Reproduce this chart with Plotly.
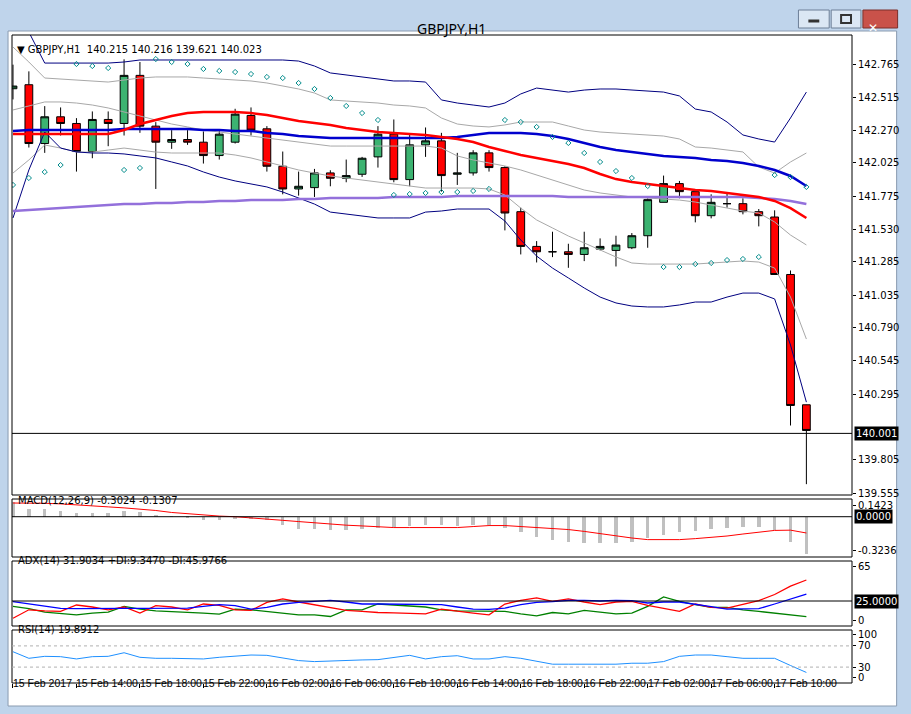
import plotly.graph_objects as go

# GBPJPY H1 bars, 15 Feb 2017 10:00 .. 17 Feb 2017 12:00
opens = [142.58, 142.61, 142.17, 142.37, 142.32, 142.11, 142.35, 142.32, 142.68, 142.30,
         142.18, 142.20, 142.18, 142.08, 142.18, 142.38, 142.28, 142.00, 141.83, 141.84,
         141.95, 141.91, 141.94, 142.07, 142.24, 141.90, 142.16, 142.19, 141.94, 141.95,
         142.10, 141.99, 141.66, 141.40, 141.36, 141.36, 141.34, 141.38, 141.37, 141.39,
         141.48, 141.73, 141.87, 141.81, 141.63, 141.72, 141.72, 141.66, 141.62, 141.19, 140.215]
highs = [142.76, 142.71, 142.45, 142.44, 142.36, 142.41, 142.41, 142.80, 142.78, 142.33,
         142.27, 142.27, 142.26, 142.27, 142.43, 142.44, 142.30, 142.11, 141.96, 141.98,
         141.97, 142.05, 142.07, 142.30, 142.35, 142.24, 142.29, 142.25, 142.10, 142.12,
         142.12, 142.00, 141.69, 141.44, 141.51, 141.42, 141.51, 141.46, 141.48, 141.50,
         141.76, 141.93, 141.89, 141.81, 141.79, 141.80, 141.76, 141.68, 141.67, 141.22, 140.216]
lows = [142.50, 142.14, 142.10, 142.23, 141.96, 142.06, 142.15, 142.23, 142.25, 141.83,
        142.13, 142.16, 142.02, 142.05, 142.17, 142.23, 141.96, 141.79, 141.78, 141.77,
        141.85, 141.88, 141.92, 141.99, 141.88, 141.85, 142.07, 141.81, 141.86, 141.93,
        141.96, 141.52, 141.34, 141.28, 141.32, 141.24, 141.29, 141.37, 141.25, 141.38,
        141.39, 141.73, 141.76, 141.58, 141.61, 141.69, 141.64, 141.55, 141.19, 140.06, 139.621]
closes = [142.60, 142.17, 142.37, 142.32, 142.11, 142.35, 142.32, 142.68, 142.30, 142.18,
          142.20, 142.18, 142.08, 142.24, 142.39, 142.27, 142.00, 141.83, 141.85, 141.95,
          141.91, 141.93, 142.06, 142.24, 141.90, 142.16, 142.19, 141.93, 141.95, 142.10,
          141.99, 141.65, 141.40, 141.36, 141.36, 141.34, 141.39, 141.40, 141.41, 141.48,
          141.75, 141.87, 141.81, 141.63, 141.73, 141.72, 141.66, 141.63, 141.19, 140.21, 140.023]

ma_blue = [142.264, 142.271, 142.271, 142.271, 142.271, 142.271, 142.271, 142.279, 142.279, 142.279,
           142.279, 142.279, 142.271, 142.271, 142.264, 142.264, 142.249, 142.241, 142.226, 142.219,
           142.211, 142.211, 142.211, 142.211, 142.211, 142.211, 142.211, 142.211, 142.219, 142.234,
           142.249, 142.249, 142.249, 142.241, 142.226, 142.204, 142.174, 142.144, 142.121, 142.106,
           142.092, 142.077, 142.069, 142.062, 142.047, 142.039, 142.024, 142.002, 141.972, 141.927, 141.852]
ma_red = [142.241, 142.241, 142.241, 142.241, 142.241, 142.241, 142.241, 142.271, 142.316, 142.346,
          142.376, 142.398, 142.406, 142.406, 142.406, 142.398, 142.383, 142.361, 142.338, 142.324,
          142.309, 142.286, 142.271, 142.256, 142.249, 142.241, 142.234, 142.219, 142.204, 142.181,
          142.144, 142.114, 142.084, 142.062, 142.039, 142.017, 141.987, 141.942, 141.904, 141.882,
          141.867, 141.852, 141.837, 141.822, 141.815, 141.800, 141.785, 141.770, 141.740, 141.687, 141.613]
ma_purple = [141.665, 141.672, 141.680, 141.687, 141.695, 141.702, 141.710, 141.717, 141.717, 141.725,
             141.725, 141.732, 141.732, 141.740, 141.740, 141.747, 141.747, 141.747, 141.755, 141.755,
             141.762, 141.762, 141.762, 141.762, 141.770, 141.770, 141.770, 141.770, 141.777, 141.777,
             141.777, 141.777, 141.777, 141.777, 141.777, 141.770, 141.770, 141.770, 141.770, 141.770,
             141.770, 141.770, 141.770, 141.770, 141.770, 141.770, 141.770, 141.762, 141.755, 141.740, 141.717]
band_up = [143.206, 143.004, 142.772, 142.772, 142.772, 142.772, 142.772, 142.780, 142.795, 142.795,
           142.795, 142.795, 142.795, 142.795, 142.795, 142.795, 142.795, 142.795, 142.787, 142.750,
           142.698, 142.683, 142.668, 142.653, 142.638, 142.638, 142.630, 142.496, 142.473, 142.458,
           142.443, 142.473, 142.541, 142.585, 142.570, 142.555, 142.570, 142.578, 142.578, 142.570,
           142.563, 142.555, 142.526, 142.428, 142.406, 142.331, 142.234, 142.204, 142.181, 142.361, 142.555]
band_lo = [141.613, 141.972, 142.256, 142.136, 142.107, 142.099, 142.099, 142.092, 142.077, 142.062,
           142.032, 142.002, 141.957, 141.919, 141.890, 141.867, 141.845, 141.807, 141.762, 141.717,
           141.657, 141.643, 141.628, 141.613, 141.613, 141.613, 141.657, 141.665, 141.680, 141.680,
           141.680, 141.590, 141.448, 141.328, 141.238, 141.164, 141.089, 141.021, 140.977, 140.954,
           140.947, 140.947, 140.962, 140.984, 140.984, 141.021, 141.051, 141.051, 141.007, 140.662, 140.235]
grey_up = [142.892, 142.780, 142.660, 142.653, 142.645, 142.638, 142.630, 142.645, 142.660, 142.668,
           142.668, 142.668, 142.660, 142.653, 142.645, 142.638, 142.623, 142.600, 142.578, 142.548,
           142.496, 142.488, 142.481, 142.473, 142.458, 142.451, 142.436, 142.361, 142.316, 142.301,
           142.294, 142.309, 142.331, 142.331, 142.331, 142.301, 142.271, 142.256, 142.249, 142.241,
           142.234, 142.226, 142.204, 142.144, 142.136, 142.122, 142.107, 141.994, 141.949, 142.032, 142.099]
grey_mid = [142.421, 142.451, 142.481, 142.481, 142.473, 142.458, 142.436, 142.406, 142.376, 142.346,
            142.316, 142.294, 142.271, 142.256, 142.241, 142.226, 142.211, 142.196, 142.181, 142.166,
            142.151, 142.151, 142.151, 142.151, 142.151, 142.151, 142.151, 142.136, 142.077, 142.047,
            142.024, 142.002, 141.972, 141.934, 141.897, 141.860, 141.822, 141.800, 141.785, 141.770,
            141.762, 141.755, 141.747, 141.732, 141.710, 141.687, 141.665, 141.650, 141.583, 141.485, 141.411]
grey_lo = [141.949, 142.047, 142.159, 142.136, 142.106, 142.106, 142.121, 142.136, 142.121, 142.106,
           142.099, 142.099, 142.099, 142.099, 142.084, 142.062, 142.032, 142.002, 141.972, 141.949,
           141.927, 141.912, 141.897, 141.882, 141.867, 141.852, 141.837, 141.837, 141.837, 141.837,
           141.830, 141.785, 141.687, 141.598, 141.538, 141.478, 141.426, 141.373, 141.321, 141.276,
           141.268, 141.268, 141.268, 141.268, 141.276, 141.283, 141.291, 141.283, 141.238, 141.021, 140.707]
sar = [141.860, 141.912, 141.957, 142.009, 142.765, 142.750, 142.735, 141.972, 141.987, 142.802,
       142.780, 142.765, 142.728, 142.713, 142.705, 142.690, 142.668, 142.660, 142.623, 142.578,
       142.511, 142.451, 142.398, 142.346, 141.785, 141.792, 141.800, 141.807, 141.807, 141.815,
       141.830, 142.346, 142.331, 142.294, 142.219, 142.174, 142.099, 142.032, 141.964, 141.912,
       141.852, 141.246, 141.246, 141.268, 141.276, 141.298, 141.306, 141.321, 141.934, 141.919, 141.845]

macd_hist = [0.12, 0.058, 0.058, 0.045, 0.032, 0.026, 0.026, 0.045, 0.039, 0.013,
             -0.002, -0.013, -0.026, -0.026, -0.021, -0.021, -0.029, -0.068, -0.095, -0.100,
             -0.108, -0.108, -0.100, -0.087, -0.082, -0.074, -0.068, -0.066, -0.074, -0.066,
             -0.066, -0.087, -0.126, -0.160, -0.184, -0.200, -0.213, -0.213, -0.213, -0.205,
             -0.174, -0.145, -0.121, -0.113, -0.097, -0.089, -0.082, -0.082, -0.108, -0.205, -0.3024]
macd_signal = [0.110, 0.110, 0.108, 0.103, 0.097, 0.089, 0.079, 0.071, 0.063, 0.050,
               0.034, 0.024, 0.013, 0.005, 0.0, -0.008, -0.016, -0.029, -0.039, -0.050,
               -0.060, -0.068, -0.074, -0.082, -0.087, -0.087, -0.087, -0.087, -0.087, -0.079,
               -0.071, -0.071, -0.079, -0.084, -0.092, -0.103, -0.118, -0.137, -0.155, -0.171,
               -0.184, -0.187, -0.184, -0.176, -0.166, -0.155, -0.139, -0.126, -0.110, -0.108, -0.1307]

adx_main = [24.4, 22.0, 19.6, 17.6, 17.3, 17.6, 17.9, 17.6, 17.6, 17.6, 17.9, 17.9, 19.6, 21.3, 20.3,
            16.9, 18.6, 22.0, 23.7, 25.0, 25.7, 24.0, 22.0, 22.0, 22.0, 22.0, 22.0, 21.3, 19.0, 16.9,
            16.6, 17.9, 21.3, 23.7, 24.4, 25.7, 25.7, 25.0, 25.7, 25.4, 23.0, 24.0, 24.0, 22.0, 19.3,
            16.9, 16.9, 17.3, 22.0, 27.1, 31.9]
di_minus = [7.8, 16.2, 15.2, 14.6, 21.0, 19.0, 16.2, 19.0, 12.9, 20.3, 19.0, 16.2, 22.0, 20.6, 16.2,
            15.6, 23.7, 27.1, 24.0, 21.3, 19.0, 15.6, 14.6, 13.5, 13.2, 12.5, 12.2, 16.9, 14.6, 12.9,
            11.2, 22.0, 25.7, 28.1, 24.7, 27.1, 24.0, 21.3, 24.0, 24.7, 20.6, 17.9, 14.6, 22.0, 18.6,
            17.9, 21.3, 25.4, 31.5, 39.9, 46.0]
di_plus = [19.6, 17.3, 13.9, 12.9, 11.2, 12.9, 13.9, 19.6, 16.9, 15.2, 14.6, 13.5, 12.9, 11.8, 16.9,
           16.2, 14.6, 12.9, 11.2, 11.2, 9.5, 16.2, 16.2, 22.0, 21.3, 20.0, 19.0, 16.2, 15.2, 15.2,
           15.2, 14.6, 12.2, 10.2, 13.5, 12.2, 15.6, 13.9, 12.2, 12.9, 19.6, 29.1, 24.7, 21.3, 18.6,
           18.6, 16.2, 14.6, 12.9, 11.2, 9.3]
rsi = [59.0, 46.6, 50.3, 49.7, 45.4, 49.7, 50.3, 57.1, 48.5, 46.6, 46.6, 46.6, 45.4, 48.5, 50.9,
       52.8, 52.2, 47.8, 42.3, 40.4, 41.7, 43.5, 43.5, 44.1, 47.8, 52.2, 45.4, 49.7, 51.5, 45.4,
       45.4, 49.7, 46.6, 40.4, 35.5, 35.5, 35.5, 35.5, 35.5, 37.3, 37.3, 40.4, 50.3, 52.8, 52.8,
       49.7, 46.6, 46.6, 46.6, 33.0, 19.9]

time_ticks = [0, 4, 8, 12, 16, 20, 24, 28, 32, 36, 40, 44, 48]
time_labels = ["15 Feb 2017", "15 Feb 14:00", "15 Feb 18:00", "15 Feb 22:00", "16 Feb 02:00",
               "16 Feb 06:00", "16 Feb 10:00", "16 Feb 14:00", "16 Feb 18:00", "16 Feb 22:00",
               "17 Feb 02:00", "17 Feb 06:00", "17 Feb 10:00"]
price_ticks = [142.765, 142.515, 142.270, 142.025, 141.775, 141.530, 141.285, 141.035,
               140.790, 140.545, 140.295, 139.805, 139.555]
bid = 140.001
# edge labels of the indicator panes sit a few pixels inside the pane
macd_tickvals, macd_ticktext = [0.094, -0.275], ["0.1423", "-0.3236"]
adx_tickvals, adx_ticktext = [60, 6], ["65", "0"]
rsi_tickvals, rsi_ticktext = [91, 70, 30, 11], ["100", "70", "30", "0"]

W, H = 911, 714
ML, MR, MT, MB = 12, 52, 35, 31


def px(x):
    return (x - ML) / (W - ML - MR)


def py(y):
    return (H - MB - y) / (H - MT - MB)


FONT = "DejaVu Sans"
FS = 10
idx = list(range(len(closes)))
fig = go.Figure()

# main pane
for vals, col, w in [(grey_up, "#a8a8a8", 1), (grey_mid, "#a8a8a8", 1), (grey_lo, "#a8a8a8", 1),
                     (band_up, "#000080", 1), (band_lo, "#000080", 1),
                     (ma_purple, "#9370db", 2.5), (ma_blue, "#0000cd", 2.5), (ma_red, "#ff0000", 2.5)]:
    fig.add_trace(go.Scatter(x=idx, y=vals, mode="lines", line=dict(color=col, width=w),
                             xaxis="x", yaxis="y"))
fig.add_trace(go.Scatter(x=idx, y=sar, mode="markers",
                         marker=dict(symbol="diamond-open", size=4, color="#008b8b", line=dict(width=1)),
                         xaxis="x", yaxis="y"))
fig.add_trace(go.Candlestick(x=idx, open=opens, high=highs, low=lows, close=closes,
                             increasing=dict(fillcolor="#3cb371", line=dict(color="black", width=1)),
                             decreasing=dict(fillcolor="#ff0000", line=dict(color="black", width=1)),
                             whiskerwidth=0, xaxis="x", yaxis="y"))

# MACD
fig.add_trace(go.Bar(x=idx, y=macd_hist, marker=dict(color="#c0c0c0", line=dict(width=0)),
                     width=0.22, xaxis="x", yaxis="y2"))
fig.add_trace(go.Scatter(x=idx, y=macd_signal, mode="lines", line=dict(color="#ff0000", width=1),
                         xaxis="x", yaxis="y2"))
# ADX
for vals, col in [(di_plus, "#008000"), (di_minus, "#ff0000"), (adx_main, "#0000ff")]:
    fig.add_trace(go.Scatter(x=idx, y=vals, mode="lines", line=dict(color=col, width=1.3),
                             xaxis="x", yaxis="y3"))
# RSI
fig.add_trace(go.Scatter(x=idx, y=rsi, mode="lines", line=dict(color="#1e90ff", width=1),
                         xaxis="x", yaxis="y4"))

dom = {"y": (py(495), py(35)), "y2": (py(557), py(499)), "y3": (py(626), py(561)), "y4": (0, py(630))}
ax = dict(side="right", showgrid=False, zeroline=False, ticks="outside", ticklen=3,
          tickcolor="black", tickfont=dict(family=FONT, size=FS, color="black"), fixedrange=True)

shapes = [
    dict(type="rect", xref="paper", yref="paper", x0=px(8), x1=px(904), y0=py(706), y1=py(31),
         fillcolor="white", line=dict(color="#8a9bb0", width=1), layer="below"),
    dict(type="rect", xref="paper", yref="paper", x0=px(805), x1=px(836), y0=py(28), y1=py(10),
         fillcolor="#dbe7f4", line=dict(color="#6d7f96", width=1)),
    dict(type="rect", xref="paper", yref="paper", x0=px(838), x1=px(868), y0=py(28), y1=py(10),
         fillcolor="#dbe7f4", line=dict(color="#6d7f96", width=1)),
    dict(type="rect", xref="paper", yref="paper", x0=px(870), x1=px(905), y0=py(28), y1=py(10),
         fillcolor="#c9524a", line=dict(color="#7a2f2a", width=1)),
    dict(type="line", xref="paper", yref="paper", x0=px(815), x1=px(826), y0=py(21), y1=py(21),
         line=dict(color="#333", width=3)),
    dict(type="rect", xref="paper", yref="paper", x0=px(848), x1=px(858), y0=py(23), y1=py(15),
         line=dict(color="#333", width=2)),
]
for k, (a, b) in dom.items():
    shapes.append(dict(type="rect", xref="paper", yref="paper", x0=0, x1=1, y0=a, y1=b,
                       line=dict(color="black", width=1)))
for yr, val in [("y", bid), ("y2", 0), ("y3", 25)]:
    shapes.append(dict(type="line", xref="paper", yref=yr, x0=0, x1=1, y0=val, y1=val,
                       line=dict(color="black", width=1)))
for val in [70, 30]:
    shapes.append(dict(type="line", xref="paper", yref="y4", x0=0, x1=1, y0=val, y1=val,
                       line=dict(color="#b0b0b0", width=1, dash="dot")))

ann = [
    dict(text="GBPJPY,H1", x=px(455), y=py(17), font=dict(family="Noto Sans", size=14, color="black")),
    dict(text="✕", x=px(887), y=py(19), font=dict(family="DejaVu Sans", size=12, color="white")),
    dict(text="▼ GBPJPY,H1  140.215 140.216 139.621 140.023", x=px(15), y=py(42), xanchor="left"),
    dict(text="MACD(12,26,9) -0.3024 -0.1307", x=px(16), y=py(508), xanchor="left"),
    dict(text="ADX(14) 31.9034 +DI:9.3470 -DI:45.9766", x=px(16), y=py(568), xanchor="left"),
    dict(text="RSI(14) 19.8912", x=px(16), y=py(637), xanchor="left"),
]
for t, lab in zip(time_ticks, time_labels):
    ann.append(dict(text=lab, x=t, xref="x", y=py(691), xanchor="left", xshift=-2,
                    font=dict(family="Liberation Sans", size=10.5, color="black")))
for yr, val, lab in [("y", bid, "140.001"), ("y2", 0, "0.0000"), ("y3", 25, "25.0000")]:
    ann.append(dict(text=lab, x=px(861), y=val, yref=yr, xanchor="left", bgcolor="black",
                    font=dict(family=FONT, size=FS, color="white"), borderpad=1))
for a in ann:
    a.setdefault("xref", "paper")
    a.setdefault("yref", "paper")
    a.setdefault("showarrow", False)
    a.setdefault("font", dict(family=FONT, size=FS, color="black"))

fig.update_layout(
    width=W, height=H, autosize=False, showlegend=False, hovermode=False,
    margin=dict(l=ML, r=MR, t=MT, b=MB),
    paper_bgcolor="#bfd4eb", plot_bgcolor="white", bargap=0,
    xaxis=dict(range=[-0.0625, 52.875], anchor="y4", showgrid=False, zeroline=False,
               tickvals=time_ticks, showticklabels=False, ticks="outside", ticklen=4,
               tickcolor="black", rangeslider=dict(visible=False), fixedrange=True),
    yaxis=dict(domain=dom["y"], range=[139.540, 142.982], tickvals=price_ticks,
               tickformat=".3f", **ax),
    yaxis2=dict(domain=dom["y2"], range=[-0.3236, 0.1423], tickvals=macd_tickvals,
                ticktext=macd_ticktext, **ax),
    yaxis3=dict(domain=dom["y3"], range=[0, 65], tickvals=adx_tickvals, ticktext=adx_ticktext, **ax),
    yaxis4=dict(domain=dom["y4"], range=[0, 100], tickvals=rsi_tickvals, ticktext=rsi_ticktext, **ax),
    shapes=shapes, annotations=ann,
)

fig.write_html("out.html", config={"displayModeBar": False},
               post_script="document.body.style.margin='0';")
